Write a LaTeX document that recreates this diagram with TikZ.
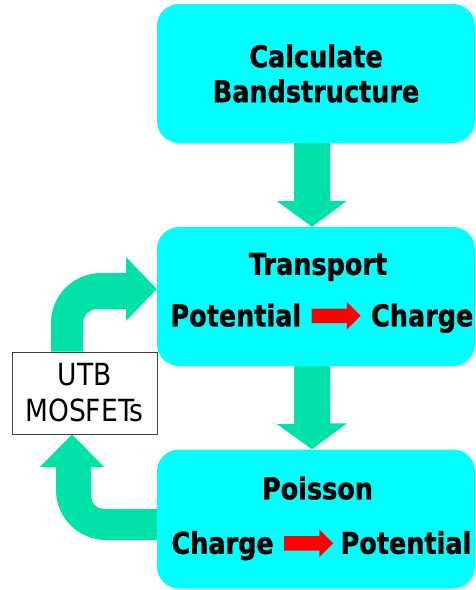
\documentclass[tikz,border=0pt]{standalone}
\usepackage{fontspec}
\setmainfont{DejaVu Sans}[FakeStretch=0.87, BoldFeatures={FakeBold=1.2, FakeStretch=0.85}]
\usepackage{tikz}
\usetikzlibrary{calc}
\usetikzlibrary{positioning}
\usetikzlibrary{shapes.arrows}
\usetikzlibrary{backgrounds}
\definecolor{boxcyan}{RGB}{0,255,255}
\definecolor{flowgreen}{RGB}{0,226,168}
\definecolor{framegray}{RGB}{64,64,64}

\begin{document}
\begin{tikzpicture}[x=1pt, y=-1pt,
        stagebox/.style={fill=boxcyan, rounded corners=22pt, minimum width=318pt, minimum height=139pt, inner sep=0pt, align=center},
        stagetext/.style={font=\fontsize{30}{35}\selectfont\bfseries, inner sep=0pt, text height=21pt, text depth=0pt},
        flow/.style={fill=flowgreen},
        redarrow/.style={single arrow, fill=red, inner sep=7pt, minimum width=27pt, minimum height=49pt, single arrow head extend=6.5pt}]
            \useasboundingbox (0,0) rectangle (476,590);
            % stages
            \node[stagebox, font=\fontsize{30}{35}\selectfont\bfseries] (band) at (316,73.5) {Calculate\\Bandstructure};
            \node[stagebox] (trans) at (316,296.5) {};
            \node[stagebox] (pois) at (316,519) {};
            \node[draw=framegray, line width=1pt, fill=white, minimum width=145pt, minimum height=82pt, inner sep=0pt, align=center, font=\fontsize{30.5}{36}\selectfont] (mos) at (84.5,393) {UTB\\MOSFETs};
            % titles and conversions
            \node[stagetext, anchor=base] (transtitle) at ([xshift=2pt, yshift=-48pt]trans.north) {Transport};
            \node[redarrow] (transarrow) at ([xshift=16.5pt, yshift=-89pt]trans.north) {};
            \node[stagetext, left=10pt of transarrow] (transfrom) {Potential};
            \node[stagetext, right=10pt of transarrow] (transto) {Charge};
            \node[stagetext, anchor=base] (poistitle) at ([xshift=1.5pt, yshift=-50pt]pois.north) {Poisson};
            \node[redarrow] (poisarrow) at ([xshift=-11pt, yshift=-94pt]pois.north) {};
            \node[stagetext, left=10pt of poisarrow] (poisfrom) {Charge};
            \node[stagetext, right=7pt of poisarrow] (poisto) {Potential};
            % flow arrows
            \begin{scope}[on background layer]
                \foreach \u/\v in {band/trans, trans/pois}
                    \fill[flow] ([xshift=-22pt]\u.south) -- ++(0,58) -- ++(-17,0) -- ([xshift=-4pt]\v.north) -- ++(35,-26) -- ++(-17,0) -- ([xshift=14pt]\u.south) -- cycle;
                \fill[flow] ([xshift=-33.5pt]mos.north) -- (51,323) .. controls (51,295.4) and (73.4,273) .. (101,273) -- (126,273) -- (126,257) -- ([yshift=7.5pt]trans.west) -- (126,321) -- (126,309) -- (97,309) .. controls (89.3,309) and (83,315.3) .. (83,323) -- ([xshift=-1.5pt]mos.north) -- cycle;
                \fill[flow] ([yshift=10pt]pois.west) -- (104,509) .. controls (96.8,509) and (91,503.2) .. (91,496) -- (91,467) -- (104,467) -- ([xshift=-12.5pt]mos.south) -- (40,467) -- (56,467) -- (56,490) .. controls (56,517.6) and (78.4,540) .. (106,540) -- ([yshift=-21pt]pois.west) -- cycle;
            \end{scope}
        \end{tikzpicture}
\end{document}
